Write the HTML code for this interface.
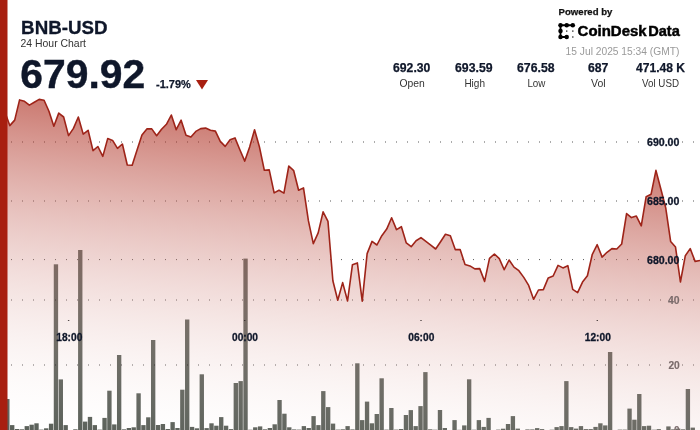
<!DOCTYPE html>
<html lang="en">
<head>
<meta charset="utf-8">
<title>BNB-USD 24 Hour Chart</title>
<style>
html,body{margin:0;padding:0;background:#fff;}
body{width:700px;height:430px;overflow:hidden;position:relative;font-family:"Liberation Sans","DejaVu Sans",sans-serif;}
svg{position:absolute;left:0;top:0;display:block;will-change:transform;}
text{font-family:"Liberation Sans","DejaVu Sans",sans-serif;}
.b{font-weight:700;}
</style>
</head>
<body>
<svg width="700" height="430" viewBox="0 0 700 430">
<defs>
<linearGradient id="g" gradientUnits="userSpaceOnUse" x1="0" y1="90" x2="-38.7" y2="441.7"><stop offset="0.0000" stop-color="rgb(168,31,16)" stop-opacity="0.6140"/><stop offset="0.0625" stop-color="rgb(173,45,31)" stop-opacity="0.5756"/><stop offset="0.1250" stop-color="rgb(179,59,46)" stop-opacity="0.5373"/><stop offset="0.1875" stop-color="rgb(184,73,61)" stop-opacity="0.4989"/><stop offset="0.2500" stop-color="rgb(190,87,76)" stop-opacity="0.4605"/><stop offset="0.3125" stop-color="rgb(195,101,91)" stop-opacity="0.4221"/><stop offset="0.3750" stop-color="rgb(201,115,106)" stop-opacity="0.3837"/><stop offset="0.4375" stop-color="rgb(206,129,121)" stop-opacity="0.3454"/><stop offset="0.5000" stop-color="rgb(212,143,136)" stop-opacity="0.3070"/><stop offset="0.5625" stop-color="rgb(217,157,150)" stop-opacity="0.2686"/><stop offset="0.6250" stop-color="rgb(222,171,165)" stop-opacity="0.2303"/><stop offset="0.6875" stop-color="rgb(228,185,180)" stop-opacity="0.1919"/><stop offset="0.7500" stop-color="rgb(233,199,195)" stop-opacity="0.1535"/><stop offset="0.8125" stop-color="rgb(239,213,210)" stop-opacity="0.1151"/><stop offset="0.8750" stop-color="rgb(244,227,225)" stop-opacity="0.0767"/><stop offset="0.9375" stop-color="rgb(250,241,240)" stop-opacity="0.0384"/><stop offset="1.0000" stop-color="rgb(255,255,255)" stop-opacity="0.0000"/></linearGradient>
</defs>
<rect x="0" y="0" width="700" height="430" fill="#ffffff"/>
<g fill="#565c55">
<rect x="5.16" y="399.0" width="4.35" height="32.0"/>
<rect x="10.02" y="425.1" width="4.35" height="5.9"/>
<rect x="14.88" y="429.0" width="4.35" height="2.0"/>
<rect x="19.74" y="429.3" width="4.35" height="1.7"/>
<rect x="24.61" y="426.1" width="4.35" height="4.9"/>
<rect x="29.47" y="424.7" width="4.35" height="6.3"/>
<rect x="34.33" y="423.3" width="4.35" height="7.7"/>
<rect x="39.19" y="429.6" width="4.35" height="1.4"/>
<rect x="44.05" y="428.3" width="4.35" height="2.7"/>
<rect x="48.91" y="423.7" width="4.35" height="7.3"/>
<rect x="53.77" y="264.3" width="4.35" height="166.7"/>
<rect x="58.63" y="379.4" width="4.35" height="51.6"/>
<rect x="63.49" y="425.1" width="4.35" height="5.9"/>
<rect x="73.22" y="429.3" width="4.35" height="1.7"/>
<rect x="78.08" y="250.0" width="4.35" height="181.0"/>
<rect x="82.94" y="421.6" width="4.35" height="9.4"/>
<rect x="87.80" y="416.9" width="4.35" height="14.1"/>
<rect x="92.66" y="425.1" width="4.35" height="5.9"/>
<rect x="97.52" y="429.6" width="4.35" height="1.4"/>
<rect x="102.38" y="417.9" width="4.35" height="13.1"/>
<rect x="107.24" y="390.7" width="4.35" height="40.3"/>
<rect x="112.11" y="424.4" width="4.35" height="6.6"/>
<rect x="116.97" y="355.0" width="4.35" height="76.0"/>
<rect x="121.83" y="429.3" width="4.35" height="1.7"/>
<rect x="126.69" y="428.0" width="4.35" height="3.0"/>
<rect x="131.55" y="427.3" width="4.35" height="3.7"/>
<rect x="136.41" y="393.3" width="4.35" height="37.7"/>
<rect x="141.27" y="425.1" width="4.35" height="5.9"/>
<rect x="146.13" y="417.3" width="4.35" height="13.7"/>
<rect x="150.99" y="340.0" width="4.35" height="91.0"/>
<rect x="155.86" y="425.0" width="4.35" height="6.0"/>
<rect x="160.72" y="424.0" width="4.35" height="7.0"/>
<rect x="165.58" y="429.0" width="4.35" height="2.0"/>
<rect x="170.44" y="422.1" width="4.35" height="8.9"/>
<rect x="175.30" y="428.0" width="4.35" height="3.0"/>
<rect x="180.16" y="389.7" width="4.35" height="41.3"/>
<rect x="185.02" y="319.5" width="4.35" height="111.5"/>
<rect x="189.88" y="426.9" width="4.35" height="4.1"/>
<rect x="194.74" y="428.3" width="4.35" height="2.7"/>
<rect x="199.61" y="374.3" width="4.35" height="56.7"/>
<rect x="204.47" y="428.1" width="4.35" height="2.9"/>
<rect x="209.33" y="423.3" width="4.35" height="7.7"/>
<rect x="214.19" y="425.7" width="4.35" height="5.3"/>
<rect x="219.05" y="417.1" width="4.35" height="13.9"/>
<rect x="223.91" y="425.7" width="4.35" height="5.3"/>
<rect x="228.77" y="429.1" width="4.35" height="1.9"/>
<rect x="233.63" y="383.0" width="4.35" height="48.0"/>
<rect x="238.49" y="381.1" width="4.35" height="49.9"/>
<rect x="243.36" y="258.6" width="4.35" height="172.4"/>
<rect x="248.22" y="429.7" width="4.35" height="1.3"/>
<rect x="253.08" y="427.3" width="4.35" height="3.7"/>
<rect x="257.94" y="426.4" width="4.35" height="4.6"/>
<rect x="262.80" y="429.3" width="4.35" height="1.7"/>
<rect x="267.66" y="428.0" width="4.35" height="3.0"/>
<rect x="272.52" y="424.3" width="4.35" height="6.7"/>
<rect x="277.38" y="400.0" width="4.35" height="31.0"/>
<rect x="282.24" y="413.7" width="4.35" height="17.3"/>
<rect x="287.11" y="427.3" width="4.35" height="3.7"/>
<rect x="291.97" y="429.4" width="4.35" height="1.6"/>
<rect x="296.83" y="429.6" width="4.35" height="1.4"/>
<rect x="301.69" y="426.1" width="4.35" height="4.9"/>
<rect x="306.55" y="428.0" width="4.35" height="3.0"/>
<rect x="311.41" y="416.1" width="4.35" height="14.9"/>
<rect x="316.27" y="425.1" width="4.35" height="5.9"/>
<rect x="321.13" y="391.1" width="4.35" height="39.9"/>
<rect x="325.99" y="407.1" width="4.35" height="23.9"/>
<rect x="330.86" y="423.6" width="4.35" height="7.4"/>
<rect x="335.72" y="429.6" width="4.35" height="1.4"/>
<rect x="340.58" y="429.3" width="4.35" height="1.7"/>
<rect x="345.44" y="426.1" width="4.35" height="4.9"/>
<rect x="350.30" y="429.4" width="4.35" height="1.6"/>
<rect x="355.16" y="363.3" width="4.35" height="67.7"/>
<rect x="360.02" y="420.1" width="4.35" height="10.9"/>
<rect x="364.88" y="401.6" width="4.35" height="29.4"/>
<rect x="369.74" y="423.3" width="4.35" height="7.7"/>
<rect x="374.61" y="414.0" width="4.35" height="17.0"/>
<rect x="379.47" y="378.3" width="4.35" height="52.7"/>
<rect x="384.33" y="429.6" width="4.35" height="1.4"/>
<rect x="389.19" y="408.0" width="4.35" height="23.0"/>
<rect x="394.05" y="429.6" width="4.35" height="1.4"/>
<rect x="398.91" y="429.0" width="4.35" height="2.0"/>
<rect x="403.77" y="415.0" width="4.35" height="16.0"/>
<rect x="408.63" y="410.1" width="4.35" height="20.9"/>
<rect x="413.49" y="426.1" width="4.35" height="4.9"/>
<rect x="418.36" y="406.1" width="4.35" height="24.9"/>
<rect x="423.22" y="372.1" width="4.35" height="58.9"/>
<rect x="428.08" y="429.3" width="4.35" height="1.7"/>
<rect x="432.94" y="429.7" width="4.35" height="1.3"/>
<rect x="437.80" y="410.0" width="4.35" height="21.0"/>
<rect x="442.66" y="428.0" width="4.35" height="3.0"/>
<rect x="452.38" y="420.1" width="4.35" height="10.9"/>
<rect x="457.24" y="429.8" width="4.35" height="1.2"/>
<rect x="462.11" y="425.4" width="4.35" height="5.6"/>
<rect x="466.97" y="379.3" width="4.35" height="51.7"/>
<rect x="471.83" y="429.7" width="4.35" height="1.3"/>
<rect x="476.69" y="420.1" width="4.35" height="10.9"/>
<rect x="481.55" y="426.9" width="4.35" height="4.1"/>
<rect x="486.41" y="417.9" width="4.35" height="13.1"/>
<rect x="496.13" y="429.6" width="4.35" height="1.4"/>
<rect x="500.99" y="428.7" width="4.35" height="2.3"/>
<rect x="505.86" y="424.0" width="4.35" height="7.0"/>
<rect x="510.72" y="416.1" width="4.35" height="14.9"/>
<rect x="515.58" y="428.6" width="4.35" height="2.4"/>
<rect x="525.30" y="429.4" width="4.35" height="1.6"/>
<rect x="530.16" y="429.4" width="4.35" height="1.6"/>
<rect x="535.02" y="428.1" width="4.35" height="2.9"/>
<rect x="539.88" y="429.1" width="4.35" height="1.9"/>
<rect x="549.61" y="429.7" width="4.35" height="1.3"/>
<rect x="554.47" y="427.1" width="4.35" height="3.9"/>
<rect x="559.33" y="426.1" width="4.35" height="4.9"/>
<rect x="564.19" y="381.1" width="4.35" height="49.9"/>
<rect x="569.05" y="427.1" width="4.35" height="3.9"/>
<rect x="573.91" y="428.6" width="4.35" height="2.4"/>
<rect x="578.77" y="426.1" width="4.35" height="4.9"/>
<rect x="583.63" y="429.1" width="4.35" height="1.9"/>
<rect x="588.49" y="429.1" width="4.35" height="1.9"/>
<rect x="593.36" y="426.9" width="4.35" height="4.1"/>
<rect x="598.22" y="423.3" width="4.35" height="7.7"/>
<rect x="603.08" y="425.4" width="4.35" height="5.6"/>
<rect x="607.94" y="352.0" width="4.35" height="79.0"/>
<rect x="617.66" y="429.6" width="4.35" height="1.4"/>
<rect x="622.52" y="429.6" width="4.35" height="1.4"/>
<rect x="627.38" y="408.6" width="4.35" height="22.4"/>
<rect x="632.24" y="419.7" width="4.35" height="11.3"/>
<rect x="637.11" y="394.0" width="4.35" height="37.0"/>
<rect x="641.97" y="426.1" width="4.35" height="4.9"/>
<rect x="646.83" y="425.7" width="4.35" height="5.3"/>
<rect x="651.69" y="429.7" width="4.35" height="1.3"/>
<rect x="656.55" y="429.1" width="4.35" height="1.9"/>
<rect x="666.27" y="426.4" width="4.35" height="4.6"/>
<rect x="671.13" y="429.3" width="4.35" height="1.7"/>
<rect x="675.99" y="428.6" width="4.35" height="2.4"/>
<rect x="680.86" y="429.3" width="4.35" height="1.7"/>
<rect x="685.72" y="389.0" width="4.35" height="42.0"/>
<rect x="690.58" y="427.6" width="4.35" height="3.4"/>
</g>
<g stroke="#000000" stroke-width="1" stroke-dasharray="1 10" opacity="0.66"><line x1="11" y1="142.0" x2="700" y2="142.0"/><line x1="11" y1="201.0" x2="700" y2="201.0"/><line x1="11" y1="259.6" x2="700" y2="259.6"/><line x1="11" y1="300.0" x2="700" y2="300.0"/><line x1="11" y1="365.0" x2="700" y2="365.0"/></g>
<path d="M0.00,112.00 L4.90,112.00 L9.79,125.60 L14.69,120.10 L19.58,99.90 L24.48,101.30 L29.37,105.10 L34.27,102.30 L39.16,99.40 L44.06,100.30 L48.95,111.30 L53.85,126.30 L58.74,113.10 L63.64,117.00 L68.53,135.60 L73.43,128.40 L78.32,117.00 L83.22,134.10 L88.11,130.30 L93.01,150.60 L97.90,146.50 L102.80,156.40 L107.69,138.60 L112.59,140.40 L117.48,148.30 L122.38,144.00 L127.27,165.00 L132.17,165.30 L137.06,150.00 L141.96,135.00 L146.85,128.90 L151.75,128.90 L156.64,135.70 L161.54,129.30 L166.43,124.30 L171.33,115.00 L176.22,129.70 L181.12,120.20 L186.01,135.20 L190.91,137.10 L195.80,131.40 L200.70,128.60 L205.59,128.10 L210.49,130.30 L215.38,131.10 L220.28,141.40 L225.17,146.40 L230.07,139.70 L234.97,137.90 L239.86,149.70 L244.76,161.10 L249.65,146.90 L254.55,129.70 L259.44,146.90 L264.34,170.30 L269.23,169.90 L274.13,192.90 L279.02,190.30 L283.92,193.10 L288.81,166.00 L293.71,170.70 L298.60,190.30 L303.50,187.90 L308.39,220.70 L313.29,243.60 L318.18,232.90 L323.08,211.90 L327.97,221.40 L332.87,280.70 L337.76,300.30 L342.66,282.60 L347.55,301.00 L352.45,264.70 L357.34,262.90 L362.24,301.20 L367.13,253.60 L372.03,241.40 L376.92,245.00 L381.82,235.70 L386.71,229.10 L391.61,217.80 L396.50,229.60 L401.40,226.70 L406.29,242.90 L411.19,246.70 L416.08,240.70 L420.98,237.60 L425.87,241.30 L430.77,245.10 L435.66,249.00 L440.56,241.80 L445.45,234.30 L450.35,235.70 L455.24,249.60 L460.14,249.60 L465.03,264.40 L469.93,265.90 L474.83,268.90 L479.72,268.60 L484.62,281.40 L489.51,258.30 L494.41,254.00 L499.30,258.60 L504.20,269.70 L509.09,260.00 L513.99,267.10 L518.88,270.70 L523.78,277.40 L528.67,285.40 L533.57,299.30 L538.46,290.00 L543.36,289.60 L548.25,277.90 L553.15,276.00 L558.04,265.40 L562.94,267.90 L567.83,265.70 L572.73,289.30 L577.62,292.60 L582.52,282.10 L587.41,275.70 L592.31,254.30 L597.20,244.70 L602.10,257.10 L606.99,252.30 L611.89,248.60 L616.78,249.00 L621.68,244.00 L626.57,213.60 L631.47,217.60 L636.36,216.10 L641.26,225.80 L646.15,196.70 L651.05,194.30 L655.94,170.40 L660.84,189.00 L665.73,207.90 L670.63,241.40 L675.52,247.10 L680.42,282.00 L685.31,255.70 L690.21,248.60 L695.10,261.40 L700.00,260.50 L700,430 L0,430 Z" fill="url(#g)"/>
<path d="M0.00,112.00 L4.90,112.00 L9.79,125.60 L14.69,120.10 L19.58,99.90 L24.48,101.30 L29.37,105.10 L34.27,102.30 L39.16,99.40 L44.06,100.30 L48.95,111.30 L53.85,126.30 L58.74,113.10 L63.64,117.00 L68.53,135.60 L73.43,128.40 L78.32,117.00 L83.22,134.10 L88.11,130.30 L93.01,150.60 L97.90,146.50 L102.80,156.40 L107.69,138.60 L112.59,140.40 L117.48,148.30 L122.38,144.00 L127.27,165.00 L132.17,165.30 L137.06,150.00 L141.96,135.00 L146.85,128.90 L151.75,128.90 L156.64,135.70 L161.54,129.30 L166.43,124.30 L171.33,115.00 L176.22,129.70 L181.12,120.20 L186.01,135.20 L190.91,137.10 L195.80,131.40 L200.70,128.60 L205.59,128.10 L210.49,130.30 L215.38,131.10 L220.28,141.40 L225.17,146.40 L230.07,139.70 L234.97,137.90 L239.86,149.70 L244.76,161.10 L249.65,146.90 L254.55,129.70 L259.44,146.90 L264.34,170.30 L269.23,169.90 L274.13,192.90 L279.02,190.30 L283.92,193.10 L288.81,166.00 L293.71,170.70 L298.60,190.30 L303.50,187.90 L308.39,220.70 L313.29,243.60 L318.18,232.90 L323.08,211.90 L327.97,221.40 L332.87,280.70 L337.76,300.30 L342.66,282.60 L347.55,301.00 L352.45,264.70 L357.34,262.90 L362.24,301.20 L367.13,253.60 L372.03,241.40 L376.92,245.00 L381.82,235.70 L386.71,229.10 L391.61,217.80 L396.50,229.60 L401.40,226.70 L406.29,242.90 L411.19,246.70 L416.08,240.70 L420.98,237.60 L425.87,241.30 L430.77,245.10 L435.66,249.00 L440.56,241.80 L445.45,234.30 L450.35,235.70 L455.24,249.60 L460.14,249.60 L465.03,264.40 L469.93,265.90 L474.83,268.90 L479.72,268.60 L484.62,281.40 L489.51,258.30 L494.41,254.00 L499.30,258.60 L504.20,269.70 L509.09,260.00 L513.99,267.10 L518.88,270.70 L523.78,277.40 L528.67,285.40 L533.57,299.30 L538.46,290.00 L543.36,289.60 L548.25,277.90 L553.15,276.00 L558.04,265.40 L562.94,267.90 L567.83,265.70 L572.73,289.30 L577.62,292.60 L582.52,282.10 L587.41,275.70 L592.31,254.30 L597.20,244.70 L602.10,257.10 L606.99,252.30 L611.89,248.60 L616.78,249.00 L621.68,244.00 L626.57,213.60 L631.47,217.60 L636.36,216.10 L641.26,225.80 L646.15,196.70 L651.05,194.30 L655.94,170.40 L660.84,189.00 L665.73,207.90 L670.63,241.40 L675.52,247.10 L680.42,282.00 L685.31,255.70 L690.21,248.60 L695.10,261.40 L700.00,260.50" fill="none" stroke="#9e2419" stroke-width="1.6" stroke-linejoin="round"/>
<g fill="#2a2222"><rect x="67.9" y="320" width="1.4" height="0.8"/><rect x="244.0" y="320" width="1.4" height="0.8"/><rect x="420.3" y="320" width="1.4" height="0.8"/><rect x="596.6" y="320" width="1.4" height="0.8"/></g>
<rect x="0" y="0" width="7.5" height="430" fill="#a81f10"/>

<!-- header -->
<text x="21.1" y="33.6" class="b" font-size="18.4" fill="#0f172a" stroke="#0f172a" stroke-width="0.3" textLength="86.4" lengthAdjust="spacingAndGlyphs">BNB-USD</text>
<text x="20.5" y="47" font-size="10.4" fill="#333333" textLength="65.5" lengthAdjust="spacingAndGlyphs">24 Hour Chart</text>
<text x="20.3" y="87.8" class="b" font-size="40.3" fill="#0f172a" stroke="#0f172a" stroke-width="0.4" textLength="125" lengthAdjust="spacingAndGlyphs">679.92</text>
<text x="156" y="88" class="b" font-size="11" fill="#0f172a" stroke="#0f172a" stroke-width="0.25" textLength="34.8" lengthAdjust="spacingAndGlyphs">-1.79%</text>
<path d="M196,80 L208,80 L202,89.5 Z" fill="#a81f10"/>

<!-- stats -->
<g class="b" font-size="12.2" fill="#0f172a" stroke="#0f172a" stroke-width="0.25" text-anchor="middle">
<text x="411.7" y="72" textLength="37.3" lengthAdjust="spacingAndGlyphs">692.30</text>
<text x="473.8" y="72" textLength="37.5" lengthAdjust="spacingAndGlyphs">693.59</text>
<text x="535.8" y="72" textLength="37.5" lengthAdjust="spacingAndGlyphs">676.58</text>
<text x="598.2" y="72" textLength="20.4" lengthAdjust="spacingAndGlyphs">687</text>
<text x="660.5" y="72" textLength="49" lengthAdjust="spacingAndGlyphs">471.48 K</text>
</g>
<g font-size="11" fill="#333333" text-anchor="middle">
<text x="412.1" y="87" textLength="25.3" lengthAdjust="spacingAndGlyphs">Open</text>
<text x="474.7" y="87" textLength="20.6" lengthAdjust="spacingAndGlyphs">High</text>
<text x="536.4" y="87" textLength="18" lengthAdjust="spacingAndGlyphs">Low</text>
<text x="598.3" y="87" textLength="14.6" lengthAdjust="spacingAndGlyphs">Vol</text>
<text x="660.5" y="87" textLength="37" lengthAdjust="spacingAndGlyphs">Vol USD</text>
</g>

<!-- powered by -->
<text x="558.6" y="14.5" class="b" font-size="9.5" fill="#111111" stroke="#111111" stroke-width="0.25" textLength="53.8" lengthAdjust="spacingAndGlyphs">Powered by</text>
<g fill="#000000" stroke="#000000">
<path d="M560.5,25.2 H572.8 M560.5,25.2 V37 M560.5,37 H566.7" fill="none" stroke-width="1.9" stroke-linecap="round"/>
<circle cx="560.5" cy="25.2" r="2.25" stroke="none"/><circle cx="566.7" cy="25.2" r="2.25" stroke="none"/><circle cx="572.8" cy="25.2" r="2.25" stroke="none"/>
<circle cx="560.5" cy="31.1" r="2.25" stroke="none"/><circle cx="560.5" cy="37" r="2.25" stroke="none"/><circle cx="566.7" cy="37" r="2.25" stroke="none"/>
<rect x="566" y="30.4" width="1.4" height="1.4" stroke="none" fill="#3a3a3a"/><rect x="572.1" y="30.4" width="1.4" height="1.4" stroke="none" fill="#3a3a3a"/><rect x="572.1" y="36.3" width="1.4" height="1.4" stroke="none" fill="#3a3a3a"/>
</g>
<text x="577.6" y="36" class="b" font-size="14" fill="#000000" stroke="#000000" stroke-width="0.45" textLength="69" lengthAdjust="spacingAndGlyphs">CoinDesk</text>
<text x="648.2" y="36" class="b" font-size="14" fill="#000000" stroke="#000000" stroke-width="0.45" textLength="31.6" lengthAdjust="spacingAndGlyphs">Data</text>
<text x="565.6" y="54.9" font-size="11" fill="#9a9a9a" textLength="113.8" lengthAdjust="spacingAndGlyphs">15 Jul 2025 15:34 (GMT)</text>

<!-- axis labels -->
<g class="b" font-size="11" fill="#0f172a" stroke="#0f172a" stroke-width="0.3" text-anchor="end">
<text x="679.4" y="146" textLength="32.4" lengthAdjust="spacingAndGlyphs">690.00</text>
<text x="679.4" y="205" textLength="32.4" lengthAdjust="spacingAndGlyphs">685.00</text>
<text x="679.4" y="264" textLength="32.4" lengthAdjust="spacingAndGlyphs">680.00</text>
</g>
<g class="b" font-size="11" fill="#7a6b6b" stroke="#7a6b6b" stroke-width="0.15" text-anchor="end">
<text x="679.6" y="304" textLength="11.6" lengthAdjust="spacingAndGlyphs">40</text>
<text x="679.8" y="369" textLength="11.4" lengthAdjust="spacingAndGlyphs">20</text>
<text x="679.6" y="434" textLength="5.6" lengthAdjust="spacingAndGlyphs">0</text>
</g>
<g class="b" font-size="11" fill="#0f172a" stroke="#0f172a" stroke-width="0.3" text-anchor="middle">
<text x="69.3" y="340.7" textLength="26" lengthAdjust="spacingAndGlyphs">18:00</text>
<text x="245" y="340.7" textLength="26" lengthAdjust="spacingAndGlyphs">00:00</text>
<text x="421.3" y="340.7" textLength="26" lengthAdjust="spacingAndGlyphs">06:00</text>
<text x="597.8" y="340.7" textLength="26" lengthAdjust="spacingAndGlyphs">12:00</text>
</g>
</svg>
</body>
</html>
